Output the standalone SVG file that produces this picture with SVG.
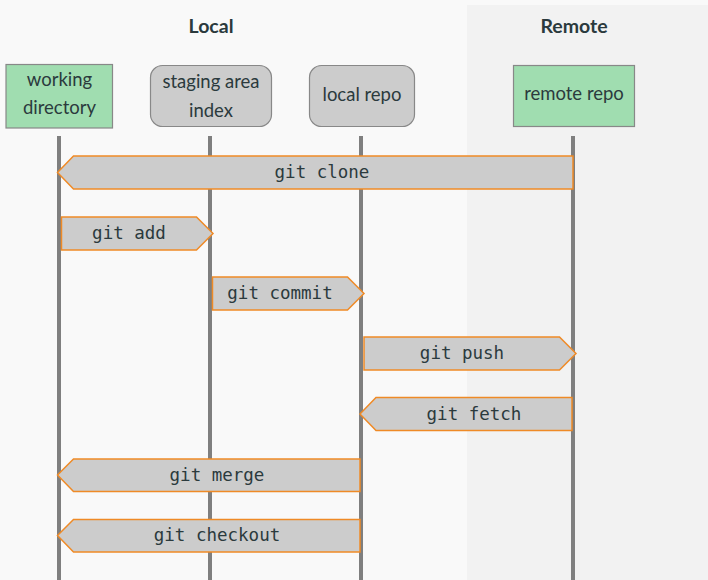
<svg xmlns="http://www.w3.org/2000/svg" width="708" height="580" viewBox="0 0 708 580">
  <style>
    .title { font-family: "Lato", "Open Sans", sans-serif; font-weight: bold; font-size: 19.5px; fill: #2b3a3d; text-anchor: middle; }
    .label { font-family: "Lato", "Open Sans", sans-serif; font-size: 18.5px; fill: #2b3a3d; text-anchor: middle; }
    .cmd { font-family: "DejaVu Sans Mono", "Liberation Mono", monospace; font-size: 17.5px; fill: #2b3a3d; text-anchor: middle; }
    .green { fill: #a0ddb0; stroke: #888; stroke-width: 1.2; }
    .grey { fill: #cccccc; stroke: #888; stroke-width: 1.2; }
    .life { stroke: #7f7f7f; stroke-width: 4; }
    .arrow { fill: #cccccc; stroke: #ef8a26; stroke-width: 1.5; stroke-linejoin: miter; }
  </style>
  <rect width="708" height="580" fill="#f9f9f9"/>
  <rect x="467" y="5" width="241" height="575" fill="#f2f2f2"/>
  <text class="title" x="211" y="33">Local</text>
  <text class="title" x="574" y="33">Remote</text>

  <g id="lifelines">
    <line class="life" x1="59" y1="136" x2="59" y2="580"/>
    <line class="life" x1="210" y1="136" x2="210" y2="580"/>
    <line class="life" x1="361" y1="136" x2="361" y2="580"/>
    <line class="life" x1="573" y1="136" x2="573" y2="580"/>
  </g>

  <g id="working-directory">
    <rect class="green" x="6" y="64.5" width="106.5" height="63.5"/>
    <text class="label" x="59.5" y="86">working</text>
    <text class="label" x="59.5" y="114">directory</text>
  </g>
  <g id="staging-area">
    <rect class="grey" x="150.5" y="65.5" width="121" height="61" rx="12"/>
    <text class="label" x="211" y="88">staging area</text>
    <text class="label" x="211" y="117">index</text>
  </g>
  <g id="local-repo">
    <rect class="grey" x="309.5" y="65.5" width="105" height="61" rx="12"/>
    <text class="label" x="362" y="101">local repo</text>
  </g>
  <g id="remote-repo">
    <rect class="green" x="513.5" y="65.5" width="121" height="61"/>
    <text class="label" x="574" y="100">remote repo</text>
  </g>

  <g id="connectors">
    <g id="git-clone">
      <polygon class="arrow" points="573,156 73.5,156 57.5,172.5 73.5,189 573,189"/>
      <text class="cmd" x="322" y="178">git clone</text>
    </g>
    <g id="git-add">
      <polygon class="arrow" points="61.5,217 196.5,217 213,233.5 196.5,250 61.5,250"/>
      <text class="cmd" x="129" y="239">git add</text>
    </g>
    <g id="git-commit">
      <polygon class="arrow" points="212.5,277 347.5,277 364,293.5 347.5,310 212.5,310"/>
      <text class="cmd" x="280" y="299">git commit</text>
    </g>
    <g id="git-push">
      <polygon class="arrow" points="364,337 559.5,337 576,353.5 559.5,370 364,370"/>
      <text class="cmd" x="462" y="359">git push</text>
    </g>
    <g id="git-fetch">
      <polygon class="arrow" points="572,397.5 376,397.5 360,414 376,430.5 572,430.5"/>
      <text class="cmd" x="474" y="420">git fetch</text>
    </g>
    <g id="git-merge">
      <polygon class="arrow" points="360,459 73.5,459 57.5,475 73.5,491.5 360,491.5"/>
      <text class="cmd" x="217" y="481">git merge</text>
    </g>
    <g id="git-checkout">
      <polygon class="arrow" points="360,519.5 73.5,519.5 57.5,535.5 73.5,552 360,552"/>
      <text class="cmd" x="217" y="541">git checkout</text>
    </g>
  </g>
</svg>
